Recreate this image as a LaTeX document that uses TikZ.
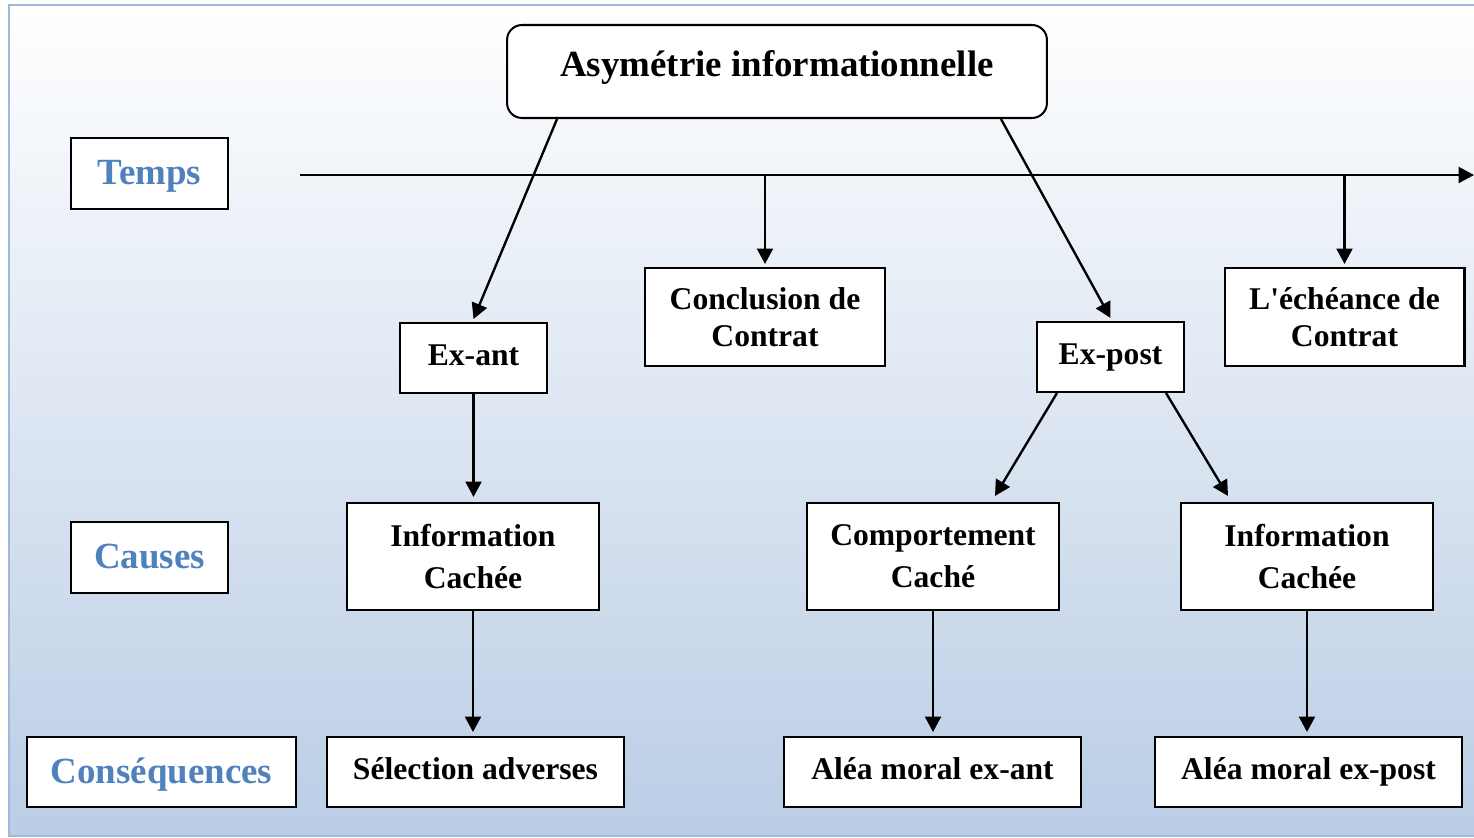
\documentclass[tikz,border=0pt]{standalone}
\usepackage{fontspec}
\setmainfont{Liberation Serif}
\usetikzlibrary{arrows.meta}
\definecolor{titreblue}{HTML}{4F81BD}
\definecolor{cadreblue}{HTML}{9DB9DD}
\definecolor{fondblue}{HTML}{BACDE5}
\begin{document}
\begin{tikzpicture}[x=0.02cm, y=-0.02cm,
  box/.style={draw, fill=white, line width=1.15pt, inner sep=0pt, align=center,
    font=\fontsize{18}{24}\selectfont\bfseries},
  one/.style={box, text height=12pt, text depth=4pt},
  lbl/.style={box, text=titreblue, text height=15pt, text depth=2pt,
    font=\fontsize{21}{25}\selectfont\bfseries},
  arr/.style={line width=1.35pt, -{Triangle[length=0.31cm,width=0.32cm]}}]
\useasboundingbox (0,0) rectangle (1474,838);
\shade[top color=white, bottom color=fondblue] (9,5) rectangle (1490,836);
\draw[cadreblue, line width=1.3pt] (9,5) rectangle (1490,836);
% labels on the left
\node[lbl, minimum width=3.14cm, minimum height=1.42cm] (temps) at (149.5,173.5) {Temps};
\node[lbl, minimum width=3.14cm, minimum height=1.42cm] (causes) at (149.5,557.5) {Causes};
\node[lbl, minimum width=5.38cm, minimum height=1.4cm] (consq) at (161.5,772) {Conséquences};
% top
\node[box, rounded corners=0.3cm, minimum width=10.8cm, minimum height=1.86cm,
  text height=14pt, text depth=8.8pt,
  font=\fontsize{21}{25}\selectfont\bfseries] (asym) at (777,71.5) {Asymétrie informationnelle};
\coordinate (t0) at (300,175);
\coordinate (t1) at (1474,175);
\node[box, minimum width=4.8cm, minimum height=1.96cm,
  font=\fontsize{18}{21}\selectfont\bfseries] (concl) at (765,317) {Conclusion de\\Contrat};
\node[box, minimum width=4.8cm, minimum height=1.96cm,
  font=\fontsize{18}{21}\selectfont\bfseries] (echeance) at (1344.5,317) {L\textquotesingle échéance de\\Contrat};
\node[one, minimum width=2.94cm, minimum height=1.4cm] (exant) at (473.5,358) {Ex-ant};
\node[one, minimum width=2.94cm, minimum height=1.4cm] (expost) at (1110.5,357) {Ex-post};
% causes
\node[box, minimum width=5.04cm, minimum height=2.14cm] (infoA) at (473,556.5) {Information\\Cachée};
\node[box, minimum width=5.04cm, minimum height=2.14cm] (comport) at (933,556.5) {Comportement\\Caché};
\node[box, minimum width=5.04cm, minimum height=2.14cm] (infoB) at (1307,556.5) {Information\\Cachée};
% consequences
\node[one, minimum width=5.94cm, minimum height=1.4cm] (selec) at (475.5,772) {Sélection adverses};
\node[one, minimum width=5.94cm, minimum height=1.4cm] (aleaA) at (932.5,772) {Aléa moral ex-ant};
\node[one, minimum width=6.14cm, minimum height=1.4cm] (aleaB) at (1308.5,772) {Aléa moral ex-post};
% arrows
\draw[arr] (t0) -- (t1);
\draw[arr] (concl.north |- t0) -- ([yshift=0.06cm]concl.north);
\draw[arr] (echeance.north |- t0) -- ([yshift=0.06cm]echeance.north);
\draw[arr] ([xshift=1.02cm]asym.south west) -- ([yshift=0.06cm]exant.north);
\draw[arr] ([xshift=-0.94cm]asym.south east) -- ([yshift=0.06cm]expost.north);
\draw[arr] (exant.south) -- ([yshift=0.1cm]exant.south |- infoA.north);
\draw[arr] ([xshift=0.42cm]expost.south west) -- ([xshift=1.24cm,yshift=0.12cm]comport.north);
\draw[arr] ([xshift=-0.38cm]expost.south east) -- ([xshift=-1.58cm,yshift=0.12cm]infoB.north);
\draw[arr] (infoA.south) -- ([yshift=0.08cm]infoA.south |- selec.north);
\draw[arr] (comport.south) -- ([yshift=0.08cm]comport.south |- aleaA.north);
\draw[arr] (infoB.south) -- ([yshift=0.08cm]infoB.south |- aleaB.north);
\end{tikzpicture}
\end{document}
